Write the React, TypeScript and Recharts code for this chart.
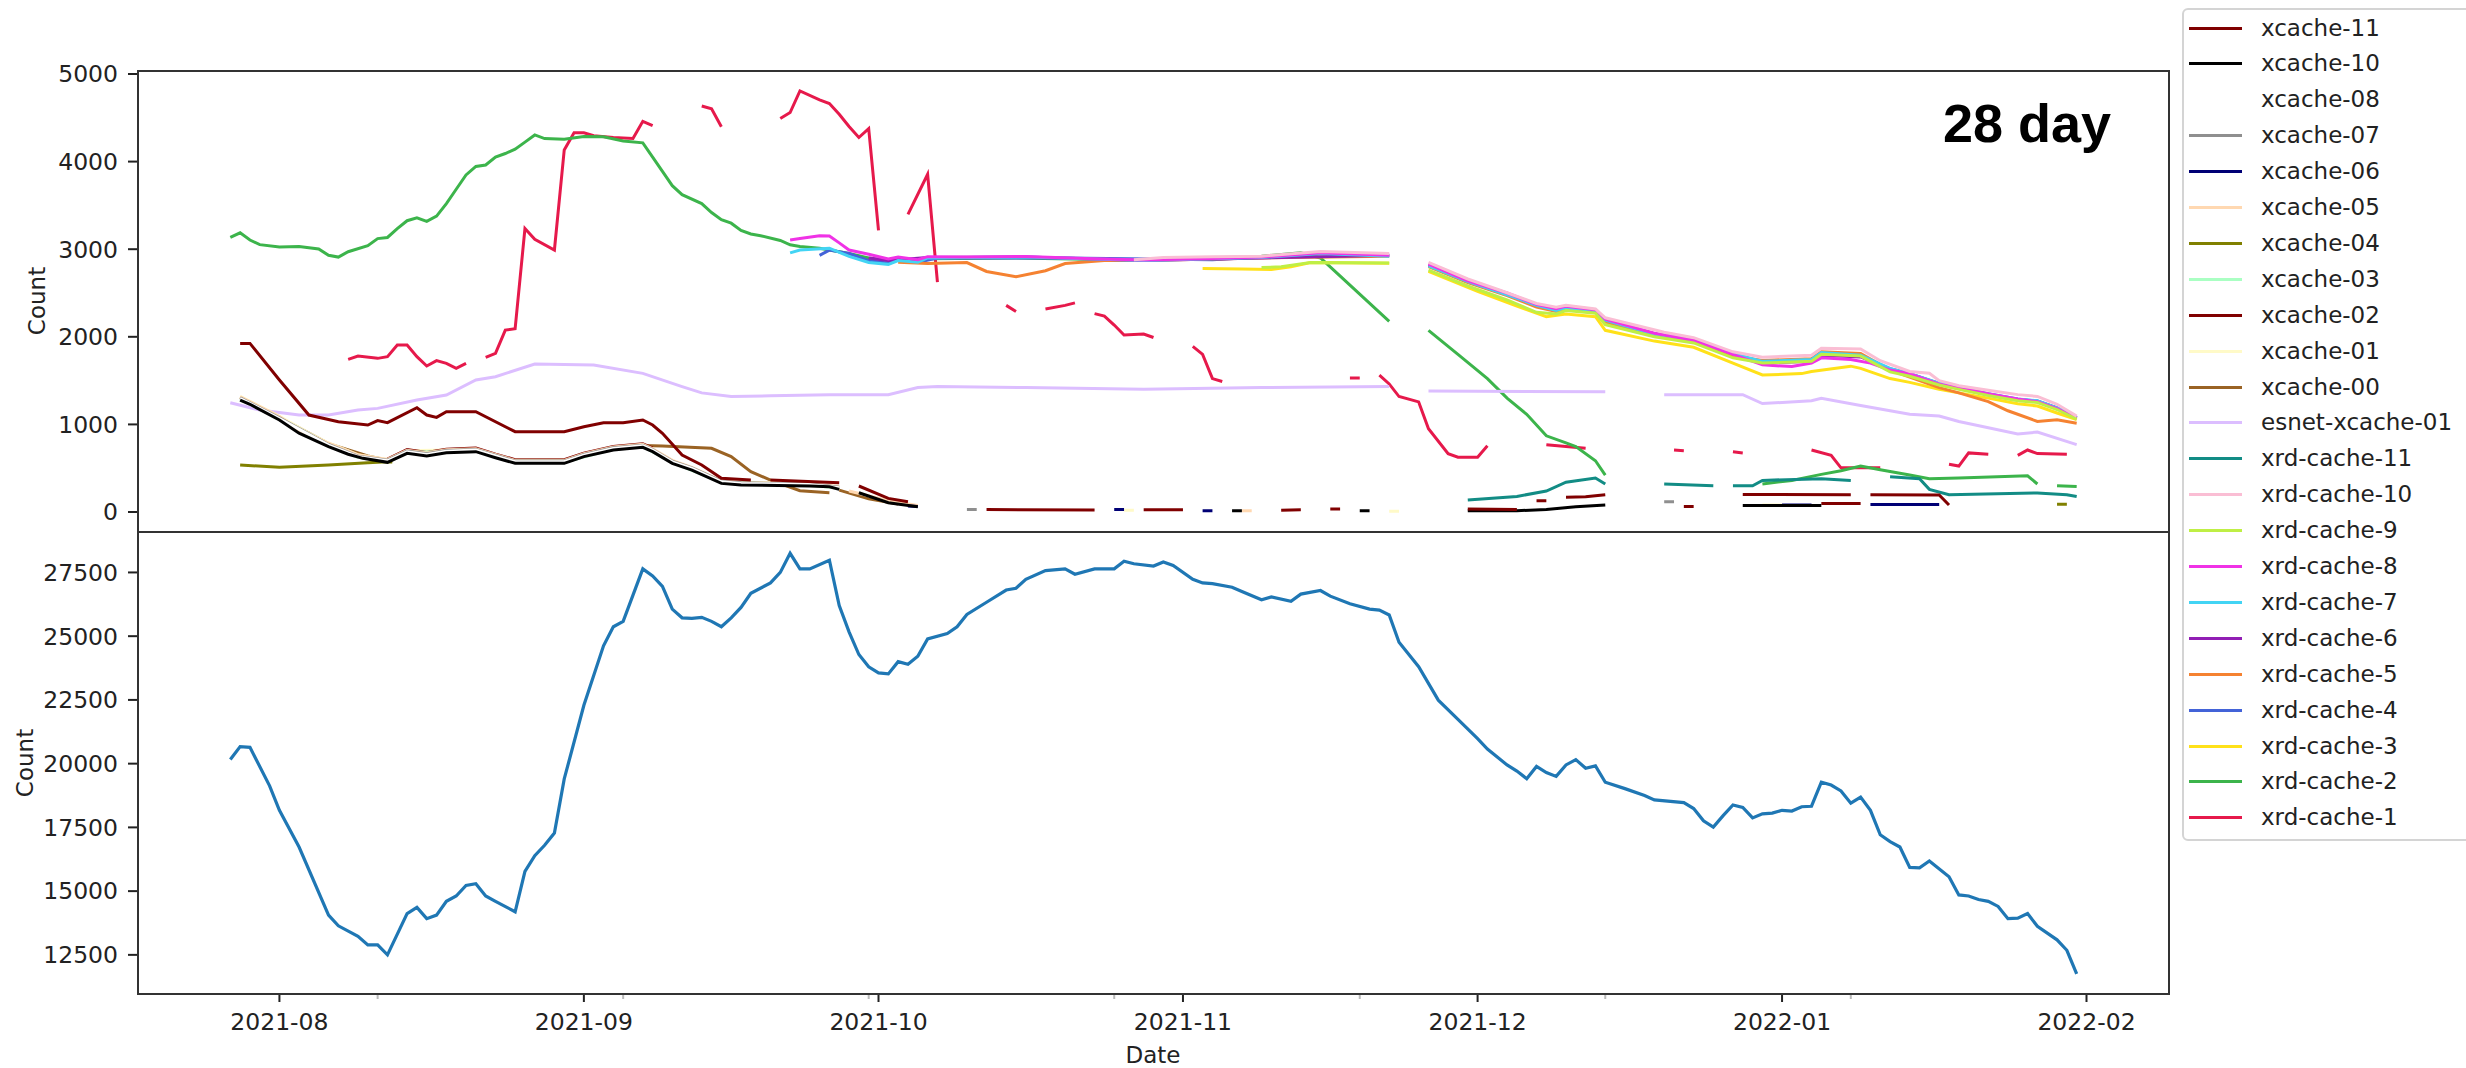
import { Legend, Line, LineChart, XAxis, YAxis } from 'recharts'

// x values are day numbers counted from 2021-08-01
type Pt = [number, number]
type Seg = Pt[]

const MONTH_TICKS = [0, 31, 61, 92, 122, 153, 184]
const MONTH_LABELS = ['2021-08', '2021-09', '2021-10', '2021-11', '2021-12', '2022-01', '2022-02']
const MINOR_TICKS = [10, 35, 60, 85, 110, 135, 160]
const TOP_TICKS = [0, 1000, 2000, 3000, 4000, 5000]
const BOTTOM_TICKS = [12500, 15000, 17500, 20000, 22500, 25000, 27500]
const X_DOMAIN: [number, number] = [-14.4, 192.4]
const TOP_DOMAIN: [number, number] = [-228, 5034]
const BOTTOM_DOMAIN: [number, number] = [10965, 29086]

const total: Pt[] = [
  [-5, 20160], [-4, 20670], [-3, 20640], [-1, 19130], [0, 18170], [2, 16730], [5, 14060], [6, 13640],
  [8, 13230], [9, 12890], [10, 12890], [11, 12500], [13, 14120], [14, 14360], [15, 13920], [16, 14060],
  [17, 14600], [18, 14810], [19, 15220], [20, 15290], [21, 14810], [22, 14600], [24, 14190], [25, 15770],
  [26, 16390], [27, 16800], [28, 17280], [29, 19400], [31, 22290], [33, 24620], [34, 25370], [35, 25580],
  [36, 26610], [37, 27640], [38, 27360], [39, 26950], [40, 26060], [41, 25720], [42, 25700], [43, 25740],
  [44, 25580], [45, 25370], [46, 25720], [47, 26130], [48, 26680], [50, 27090], [51, 27500], [52, 28250],
  [53, 27640], [54, 27640], [56, 27980], [57, 26200], [58, 25170], [59, 24280], [60, 23800], [61, 23560],
  [62, 23520], [63, 24000], [64, 23900], [65, 24210], [66, 24890], [68, 25100], [69, 25370], [70, 25850],
  [72, 26330], [74, 26810], [75, 26880], [76, 27230], [78, 27570], [80, 27640], [81, 27430], [83, 27640],
  [85, 27640], [86, 27940], [87, 27840], [89, 27750], [90, 27910], [91, 27770], [93, 27230], [94, 27090],
  [95, 27060], [97, 26920], [98, 26750], [100, 26430], [101, 26540], [103, 26370], [104, 26650], [106, 26790],
  [107, 26570], [109, 26270], [111, 26060], [112, 26020], [113, 25830], [114, 24760], [116, 23800], [118, 22490],
  [120, 21740], [122, 20980], [123, 20570], [125, 19950], [126, 19710], [127, 19410], [128, 19890], [129, 19650],
  [130, 19500], [131, 19950], [132, 20160], [133, 19820], [134, 19910], [135, 19270], [137, 19020], [139, 18750],
  [140, 18580], [143, 18470], [144, 18240], [145, 17760], [146, 17510], [147, 17960], [148, 18380], [149, 18280],
  [150, 17870], [151, 18030], [152, 18060], [153, 18170], [154, 18140], [155, 18310], [156, 18330], [157, 19270],
  [158, 19160], [159, 18930], [160, 18450], [161, 18690], [162, 18170], [163, 17210], [164, 16940], [165, 16730],
  [166, 15930], [167, 15910], [168, 16180], [170, 15560], [171, 14850], [172, 14810], [173, 14670], [174, 14600],
  [175, 14400], [176, 13920], [177, 13940], [178, 14120], [179, 13620], [181, 13090], [182, 12680], [183, 11750],
]

const xcache11: Seg[] = [
  [[-4, 1925], [-3, 1925], [0, 1507], [3, 1107], [6, 1031], [9, 993], [10, 1044], [11, 1020], [14, 1191],
    [15, 1107], [16, 1080], [17, 1145], [20, 1145], [24, 917], [29, 917], [31, 974], [33, 1020], [35, 1020],
    [37, 1050], [38, 993], [39, 898], [41, 651], [43, 537], [45, 385], [48, 365]],
  [[50, 365], [57, 335]],
  [[59, 297], [62, 156], [64, 118]],
  [[72, 28], [83, 23]],
  [[88, 25], [92, 25]],
  [[102, 20], [104, 25]],
  [[107, 35], [108, 35]],
  [[121, 35], [126, 30]],
  [[149, 200], [160, 198]],
  [[162, 198], [169, 195], [170, 80]],
]
const xcache10: Seg[] = [
  [[-4, 1278], [-3, 1230], [0, 1050], [2, 900], [5, 746], [7, 660], [8.5, 613], [11, 567], [13, 670], [15, 639],
    [17, 677], [20, 689], [22, 620], [24, 556], [29, 556], [31, 632], [34, 708], [37, 738], [38, 689], [40, 555],
    [42, 479], [45, 327], [47, 308], [54, 297], [56, 289], [57, 259]],
  [[59, 220], [62, 106], [65, 61]],
  [[97, 15], [98, 15]],
  [[110, 15], [111, 15]],
  [[121, 15], [126, 15], [129, 30], [132, 60], [135, 80]],
  [[149, 75], [157, 75]],
]
const xcache08: Seg[] = [
  [[-4, 1296], [0, 1068], [5, 764], [8, 631], [11, 585], [13, 688], [15, 657], [17, 695], [20, 707], [24, 574],
    [29, 574], [31, 650], [34, 726], [37, 756], [38, 707], [40, 573], [42, 497], [45, 345], [47, 326], [54, 315],
    [57, 277]],
]
const xcache07: Seg[] = [
  [[-4, 1303], [0, 1075], [5, 771], [8, 638], [11, 592], [13, 695], [15, 664], [17, 702], [20, 714], [24, 581],
    [29, 581], [31, 657], [34, 733], [37, 763], [38, 714], [40, 580], [42, 504], [45, 352], [47, 333], [54, 322],
    [57, 284]],
  [[70, 30], [71, 30]],
  [[141, 117], [142, 117]],
]
const xcache06: Seg[] = [
  [[64, 70], [65, 62]],
  [[85, 30], [86, 30]],
  [[94, 15], [95, 15]],
  [[153, 80], [156, 80]],
  [[162, 85], [169, 85]],
]
const xcache05: Seg[] = [
  [[-4, 1315], [0, 1090], [2, 935], [5, 785], [8, 650], [11, 600], [13, 705], [15, 675], [17, 712], [20, 722],
    [24, 590], [29, 590], [31, 665], [34, 742], [37, 772], [38, 720], [40, 590], [42, 510], [45, 355], [47, 335],
    [54, 322], [57, 290]],
  [[58, 240], [62, 130], [65, 75]],
  [[98, 15], [99, 15]],
]
const xcache04: Seg[] = [
  [[-4, 537], [0, 510], [5, 537], [9, 563], [11, 575], [11.5, 570]],
  [[181, 88], [182, 88]],
]
const xcache03: Seg[] = [
  [[-4, 1290], [0, 1062], [5, 758], [8, 625], [11, 579], [13, 682], [17, 689], [20, 701], [24, 568], [29, 568],
    [34, 720], [37, 750], [40, 567], [45, 339], [54, 309], [57, 271]],
]
const xcache02: Seg[] = [
  [[11, 605], [13, 712], [15, 680], [17, 718], [20, 730], [22, 660], [24, 598], [29, 598], [31, 672], [34, 748],
    [37, 780], [38, 730]],
  [[128, 130], [129, 130]],
  [[131, 170], [133, 175], [135, 198]],
  [[143, 64], [144, 64]],
  [[157, 96], [161, 96]],
]
const xcache01: Seg[] = [
  [[-4, 1320], [0, 1092], [3, 900], [5, 788], [8, 655], [11, 600], [13, 700], [17, 707], [20, 719], [24, 586],
    [29, 586], [34, 738], [37, 768], [40, 585], [45, 350], [54, 320], [57, 285]],
  [[86, 20], [87, 20]],
  [[113, 10], [114, 10]],
  [[151, 80], [153, 80]],
]
const xcache00: Seg[] = [
  [[-4, 1310], [0, 1080], [5, 780], [9, 640], [11, 590], [13, 700], [15, 672], [17, 712], [20, 722], [22, 650],
    [24, 590], [29, 590], [31, 665], [34, 740], [37, 760], [39, 753], [44, 727], [46, 632], [48, 461], [50, 365],
    [53, 244], [56, 221]],
  [[57, 250], [60, 150], [63, 90]],
]
const esnet01: Seg[] = [
  [[-5, 1248], [-2, 1164], [2, 1107], [5, 1107], [8, 1164], [10, 1183], [14, 1278], [17, 1335], [20, 1507],
    [22, 1545], [26, 1689], [32, 1678], [37, 1583], [41, 1431], [43, 1360], [46, 1319], [50, 1327], [56, 1340],
    [62, 1340], [65, 1421], [67, 1433], [76, 1421], [88, 1401], [100, 1421], [113, 1433]],
  [[117, 1380], [135, 1372]],
  [[141, 1340], [149, 1340], [151, 1238], [156, 1270], [157, 1299], [161, 1217], [166, 1115], [169, 1095],
    [171, 1034], [177, 892], [179, 912], [183, 770]],
]
const xrd11: Seg[] = [
  [[121, 137], [126, 178], [129, 239], [131, 340], [134, 389], [135, 320]],
  [[141, 320], [146, 300]],
  [[148, 300], [150, 300], [151, 361], [157, 381], [160, 361]],
  [[164, 402], [167, 381], [168, 259], [170, 198], [179, 218], [182, 198], [183, 178]],
]
const xrd10: Seg[] = [
  [[87, 2880], [90, 2905], [95, 2915], [100, 2920], [106, 2975], [113, 2950]],
  [[117, 2850], [121, 2660], [124, 2543], [128, 2380], [130, 2339], [131, 2360], [134, 2318], [135, 2217],
    [141, 2053], [144, 1990], [148, 1829], [151, 1767], [156, 1790], [157, 1870], [161, 1860], [163, 1727],
    [166, 1604], [168, 1584], [169, 1500], [171, 1442], [174, 1390], [177, 1340], [179, 1320], [181, 1230],
    [183, 1095]],
]
const xrd9: Seg[] = [
  [[100, 2790], [102, 2800], [105, 2848], [113, 2842]],
  [[117, 2760], [121, 2580], [125, 2420], [128, 2280], [130, 2260], [131, 2300], [134, 2270], [135, 2140],
    [140, 2000], [144, 1930], [148, 1760], [151, 1700], [156, 1720], [157, 1800], [161, 1780], [164, 1600],
    [166, 1550], [169, 1450], [171, 1400], [174, 1330], [177, 1270], [179, 1250], [181, 1170], [183, 1060]],
]
const xrd8: Seg[] = [
  [[52, 3105], [53, 3121], [55, 3154], [56, 3150], [57, 3072], [58, 2991], [60, 2942], [62, 2889], [63, 2910],
    [65, 2880], [66, 2915], [70, 2910], [76, 2918], [82, 2895], [88, 2877], [94, 2890], [100, 2910], [106, 2960],
    [113, 2930]],
  [[117, 2830], [121, 2640], [125, 2500], [128, 2370], [130, 2320], [131, 2350], [134, 2310], [135, 2200],
    [140, 2040], [144, 1960], [148, 1800], [151, 1680], [154, 1660], [156, 1700], [157, 1760], [160, 1740],
    [162, 1700], [164, 1620], [166, 1580], [169, 1460], [171, 1420], [174, 1350], [177, 1290], [179, 1260],
    [181, 1180], [183, 1070]],
]
const xrd7: Seg[] = [
  [[52, 2958], [53, 2991], [56, 3011], [58, 2918], [60, 2848], [62, 2827], [63, 2870], [65, 2850], [66, 2900],
    [70, 2905], [76, 2910], [88, 2870], [100, 2905], [106, 2950], [113, 2920]],
  [[117, 2810], [121, 2630], [125, 2480], [128, 2360], [130, 2300], [131, 2330], [134, 2300], [135, 2190],
    [140, 2030], [144, 1970], [148, 1810], [151, 1720], [156, 1740], [157, 1820], [161, 1790], [164, 1640],
    [166, 1580], [169, 1470], [171, 1420], [174, 1350], [177, 1290], [179, 1270], [181, 1190], [183, 1080]],
]
const xrd6: Seg[] = [
  [[60, 2900], [62, 2870], [66, 2905], [76, 2910], [88, 2870], [100, 2900], [113, 2930]],
  [[117, 2820], [121, 2640], [125, 2490], [128, 2365], [130, 2310], [131, 2340], [134, 2305], [135, 2195],
    [140, 2035], [144, 1965], [148, 1805], [151, 1700], [156, 1720], [157, 1790], [161, 1770], [164, 1630],
    [166, 1575], [169, 1465], [171, 1415], [174, 1345], [177, 1285], [179, 1265], [181, 1185], [183, 1075]],
]
const xrd5: Seg[] = [
  [[63, 2850], [66, 2836], [70, 2848], [72, 2746], [75, 2685], [78, 2754], [80, 2836], [84, 2870], [88, 2870],
    [100, 2900], [113, 2920]],
  [[117, 2800], [121, 2620], [125, 2470], [128, 2340], [130, 2290], [131, 2320], [134, 2280], [135, 2170],
    [140, 2010], [144, 1950], [148, 1780], [151, 1730], [156, 1750], [157, 1830], [161, 1810], [164, 1620],
    [166, 1540], [169, 1420], [171, 1360], [174, 1260], [176, 1156], [179, 1034], [181, 1054], [183, 1013]],
]
const xrd4: Seg[] = [
  [[55, 2930], [56, 2990], [58, 2950], [60, 2870], [62, 2840], [63, 2880], [65, 2850], [67, 2900], [80, 2900],
    [95, 2880], [106, 2950], [113, 2925]],
  [[117, 2815], [121, 2635], [125, 2485], [128, 2362], [130, 2305], [131, 2335], [134, 2302], [135, 2192],
    [140, 2032], [144, 1968], [148, 1808], [151, 1710], [156, 1730], [157, 1805], [161, 1780], [164, 1635],
    [166, 1578], [169, 1468], [171, 1418], [174, 1348], [177, 1288], [179, 1268], [181, 1188], [183, 1078]],
]
const xrd3: Seg[] = [
  [[94, 2779], [98, 2775], [101, 2767], [103, 2800], [105, 2848], [113, 2840]],
  [[117, 2746], [122, 2520], [126, 2350], [129, 2230], [131, 2260], [134, 2230], [135, 2074], [140, 1951],
    [144, 1880], [148, 1700], [151, 1564], [155, 1580], [156, 1604], [160, 1665], [161, 1640], [164, 1523],
    [166, 1480], [169, 1401], [171, 1360], [174, 1300], [177, 1237], [179, 1210], [181, 1130], [183, 1054]],
]
const xrd2: Seg[] = [
  [[-5, 3134], [-4, 3187], [-3, 3105], [-2, 3052], [0, 3024], [2, 3032], [4, 3003], [5, 2930], [6, 2910],
    [7, 2971], [9, 3040], [10, 3121], [11, 3134], [12, 3235], [13, 3325], [14, 3358], [15, 3317], [16, 3378],
    [17, 3521], [18, 3684], [19, 3847], [20, 3945], [21, 3961], [22, 4051], [23, 4092], [24, 4141], [25, 4222],
    [26, 4304], [27, 4263], [29, 4255], [31, 4287], [33, 4283], [35, 4234], [37, 4214], [38, 4051], [39, 3888],
    [40, 3725], [41, 3623], [43, 3521], [44, 3419], [45, 3337], [46, 3297], [47, 3215], [48, 3174], [49, 3154],
    [51, 3100], [52, 3050], [53, 3030], [55, 3010], [58, 2950], [60, 2900], [62, 2870], [66, 2890], [75, 2900],
    [85, 2880], [95, 2890], [100, 2920], [104, 2960], [106, 2900], [113, 2175]],
  [[117, 2073], [120, 1800], [123, 1523], [125, 1300], [127, 1115], [129, 870], [131, 789], [132, 748],
    [134, 585], [135, 422]],
  [[151, 320], [154, 361], [157, 430], [159, 471], [161, 524], [163, 483], [166, 422], [168, 381], [171, 389],
    [178, 414], [179, 320]],
  [[181, 300], [183, 290]],
]
const xrd1: Seg[] = [
  [[7, 1743], [8, 1781], [10, 1754], [11, 1773], [12, 1906], [13, 1906], [14, 1773], [15, 1667], [16, 1728],
    [17, 1697], [18, 1640], [19, 1697]],
  [[21, 1766], [22, 1811], [23, 2077], [24, 2093], [25, 3235], [26, 3113], [28, 2991], [29, 4133], [30, 4328],
    [31, 4328], [32, 4295], [34, 4275], [36, 4263], [37, 4459], [38, 4410]],
  [[43, 4634], [44, 4602], [45, 4398]],
  [[51, 4491], [52, 4560], [53, 4806], [55, 4704], [56, 4663], [57, 4540], [58, 4400], [59, 4275], [60, 4377],
    [61, 3215]],
  [[64, 3398], [66, 3855], [67, 2624]],
  [[74, 2359], [75, 2289]],
  [[78, 2318], [80, 2359], [81, 2387]],
  [[83, 2265], [84, 2236], [85, 2134], [86, 2020], [88, 2032], [89, 1992]],
  [[93, 1890], [94, 1800], [95, 1523], [96, 1490]],
  [[109, 1531], [110, 1531]],
  [[112, 1563], [113, 1462], [114, 1318], [116, 1257], [117, 951], [119, 666], [120, 626], [122, 626], [123, 757]],
  [[129, 769], [131, 748], [133, 728]],
  [[142, 708], [143, 700]],
  [[148, 688], [149, 675]],
  [[156, 708], [158, 647], [159, 504], [163, 504]],
  [[170, 545], [171, 525], [172, 675], [174, 659]],
  [[177, 647], [178, 708], [179, 667], [182, 659]],
]

const SERIES = [
  { name: 'xcache-11', color: '#800000', segs: xcache11 },
  { name: 'xcache-10', color: '#000000', segs: xcache10 },
  { name: 'xcache-08', color: '#ffffff', segs: xcache08 },
  { name: 'xcache-07', color: '#8f8f8f', segs: xcache07 },
  { name: 'xcache-06', color: '#000075', segs: xcache06 },
  { name: 'xcache-05', color: '#ffd8b1', segs: xcache05 },
  { name: 'xcache-04', color: '#808000', segs: xcache04 },
  { name: 'xcache-03', color: '#aaffc3', segs: xcache03 },
  { name: 'xcache-02', color: '#800000', segs: xcache02 },
  { name: 'xcache-01', color: '#fffac8', segs: xcache01 },
  { name: 'xcache-00', color: '#9a6324', segs: xcache00 },
  { name: 'esnet-xcache-01', color: '#dcbeff', segs: esnet01 },
  { name: 'xrd-cache-11', color: '#128c85', segs: xrd11 },
  { name: 'xrd-cache-10', color: '#fabed4', segs: xrd10 },
  { name: 'xrd-cache-9', color: '#bfef45', segs: xrd9 },
  { name: 'xrd-cache-8', color: '#f032e6', segs: xrd8 },
  { name: 'xrd-cache-7', color: '#42d4f4', segs: xrd7 },
  { name: 'xrd-cache-6', color: '#911eb4', segs: xrd6 },
  { name: 'xrd-cache-5', color: '#f58231', segs: xrd5 },
  { name: 'xrd-cache-4', color: '#4363d8', segs: xrd4 },
  { name: 'xrd-cache-3', color: '#ffe119', segs: xrd3 },
  { name: 'xrd-cache-2', color: '#3cb44b', segs: xrd2 },
  { name: 'xrd-cache-1', color: '#e6194b', segs: xrd1 },
]

// the xcache lines sit on top where they overlap
const DRAW_ORDER = [...SERIES].reverse()

const FONT = '"DejaVu Sans", sans-serif'
const INK = '#222'
const TICK = { fontFamily: FONT, fontSize: 23.5, fill: INK }

// segments joined with a null point between them so the line breaks
function toPoints(segs: Seg[]) {
  const out: { d: number; v: number | null }[] = []
  segs.forEach((seg, i) => {
    if (i > 0) {
      const prev = segs[i - 1][segs[i - 1].length - 1][0]
      out.push({ d: (prev + seg[0][0]) / 2, v: null })
    }
    seg.forEach(([d, v]) => out.push({ d, v }))
  })
  return out
}

function LegendBox() {
  return (
    <div style={{
      position: 'relative', width: 300, height: 833, boxSizing: 'border-box',
      border: '2px solid #d4d4d4', borderRadius: 6, background: '#fff',
    }}>
      {SERIES.map((s, i) => (
        <div key={s.name} style={{
          position: 'absolute', left: 0, top: i * 35.9, height: 36,
          display: 'flex', alignItems: 'center',
        }}>
          <span style={{ marginLeft: 5, width: 53, height: 3, background: s.color }} />
          <span style={{
            marginLeft: 19, fontFamily: FONT, fontSize: 23, color: INK, lineHeight: 1,
            whiteSpace: 'nowrap',
          }}>{s.name}</span>
        </div>
      ))}
    </div>
  )
}

function DateTick(props: any) {
  const { x, y, payload } = props
  const axisY = y - 19
  const i = MONTH_TICKS.indexOf(payload.value)
  if (i < 0) {
    return <line x1={x} x2={x} y1={axisY} y2={axisY + 5} stroke="#bbb" strokeWidth={2} />
  }
  return (
    <g>
      <line x1={x} x2={x} y1={axisY} y2={axisY + 8} stroke={INK} strokeWidth={2} />
      <text x={x} y={axisY + 36} textAnchor="middle" style={TICK}>{MONTH_LABELS[i]}</text>
    </g>
  )
}

export default function App() {
  return (
    <div style={{
      position: 'absolute', left: 0, top: 0, width: 2466, height: 1068,
      overflow: 'hidden', background: '#fff',
    }}>
      <div style={{ position: 'absolute', left: 0, top: 0 }}>
        <LineChart width={2180} height={545} margin={{ top: 71, right: 11, bottom: 13, left: 0 }}>
          <XAxis dataKey="d" type="number" domain={X_DOMAIN} allowDataOverflow hide />
          <YAxis type="number" domain={TOP_DOMAIN} ticks={TOP_TICKS} width={138} axisLine={false}
            tickSize={10} tickMargin={10} tick={TICK} tickLine={{ stroke: INK, strokeWidth: 2 }} />
          <Legend layout="vertical" align="center" verticalAlign="middle"
            wrapperStyle={{ position: 'absolute', left: 2182, top: 8, width: 300, height: 833 }}
            content={() => <LegendBox />} />
          {DRAW_ORDER.map(s => (
            <Line key={s.name} name={s.name} data={toPoints(s.segs)} dataKey="v" stroke={s.color}
              strokeWidth={3} dot={false} activeDot={false} isAnimationActive={false} />
          ))}
        </LineChart>
      </div>
      <div style={{ position: 'absolute', left: 0, top: 520 }}>
        <LineChart width={2180} height={540} data={total.map(([d, v]) => ({ d, v }))}
          margin={{ top: 12, right: 11, bottom: 0, left: 0 }}>
          <XAxis dataKey="d" type="number" domain={X_DOMAIN} allowDataOverflow
            ticks={[...MONTH_TICKS, ...MINOR_TICKS].sort((a, b) => a - b)} interval={0}
            height={66} axisLine={false} tickLine={false} tickSize={8} tickMargin={11}
            tick={<DateTick />} />
          <YAxis type="number" domain={BOTTOM_DOMAIN} ticks={BOTTOM_TICKS} width={138} axisLine={false}
            tickSize={10} tickMargin={10} tick={TICK} tickLine={{ stroke: INK, strokeWidth: 2 }} />
          <Line dataKey="v" stroke="#1f77b4" strokeWidth={3.2} dot={false} activeDot={false}
            isAnimationActive={false} />
        </LineChart>
      </div>
      <svg width={2466} height={1068} style={{ position: 'absolute', left: 0, top: 0, pointerEvents: 'none' }}>
        <rect x={138} y={71} width={2031} height={461} fill="none" stroke="#333" strokeWidth={2} />
        <rect x={138} y={532} width={2031} height={462} fill="none" stroke="#333" strokeWidth={2} />
        <text x={45} y={301} transform="rotate(-90 45 301)" textAnchor="middle"
          style={{ fontFamily: FONT, fontSize: 23, fill: INK }}>Count</text>
        <text x={33} y={763} transform="rotate(-90 33 763)" textAnchor="middle"
          style={{ fontFamily: FONT, fontSize: 23, fill: INK }}>Count</text>
        <text x={1153} y={1063} textAnchor="middle"
          style={{ fontFamily: FONT, fontSize: 23, fill: INK }}>Date</text>
        <text x={1943} y={142}
          style={{ fontFamily: '"Liberation Sans", Arial, sans-serif', fontSize: 54, fontWeight: 700, fill: '#000' }}>
          28 day
        </text>
      </svg>
    </div>
  )
}
